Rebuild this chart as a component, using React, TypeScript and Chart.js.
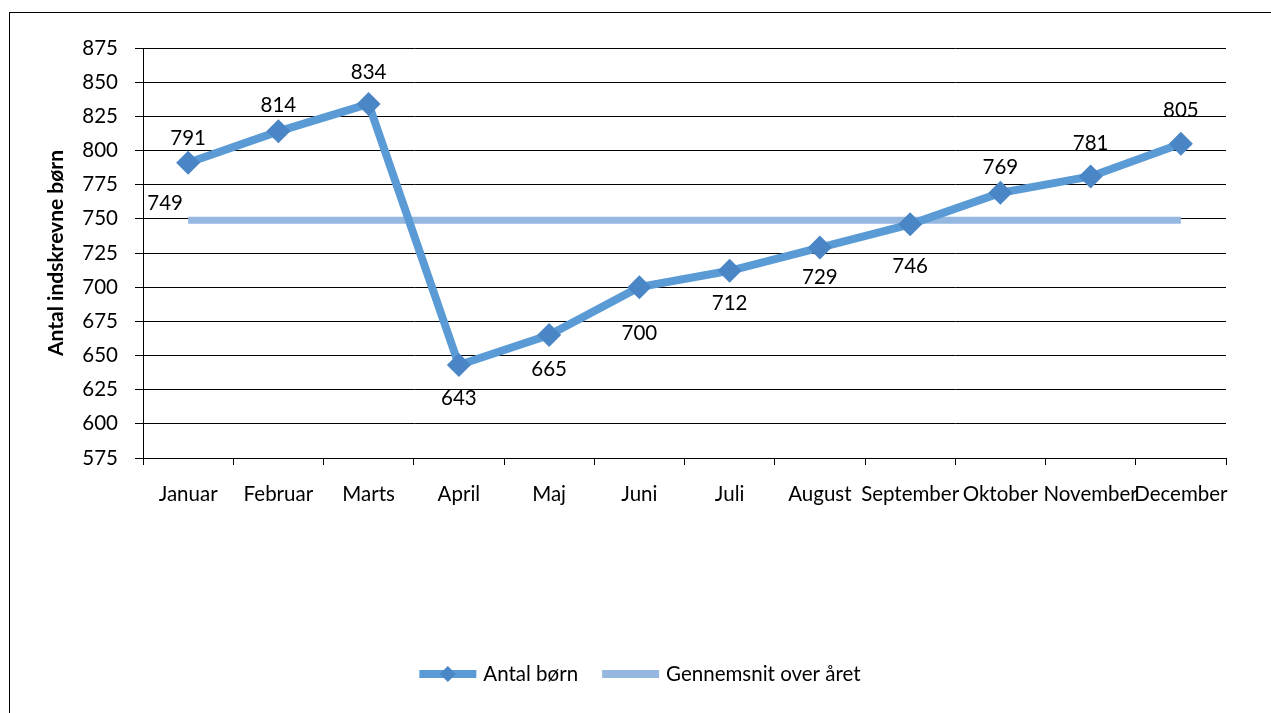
import React, { useEffect, useRef } from "react";
import { Chart, registerables } from "chart.js";

Chart.register(...registerables);

const FONT = "Lato, 'Open Sans', sans-serif";
const FS = 20.5;

const months = [
  "Januar", "Februar", "Marts", "April", "Maj", "Juni",
  "Juli", "August", "September", "Oktober", "November", "December",
];
const antalBoern = [791, 814, 834, 643, 665, 700, 712, 729, 746, 769, 781, 805];
const gennemsnit = [749, 749, 749, 749, 749, 749, 749, 749, 749, 749, 749, 749];
const seriesNames = ["Antal børn", "Gennemsnit over året"];
const yTitle = "Antal indskrevne børn";
const yMin = 575;
const yMax = 875;
const yStep = 25;

// label placement (style): vertical offsets of value labels from their points
const labelOffsetY = [-24, -26, -32, 33, 34, 46, 33, 30, 42, -25, -33, -33];

const MAIN_COLOR = "#5b9bd5";
const MARKER_COLOR = "#4a85c5";
const AVG_COLOR = "#95b8e0";

const labelPlugin = {
  id: "valueLabels",
  afterDatasetsDraw(chart: any) {
    const ctx = chart.ctx;
    ctx.save();
    ctx.font = `${FS}px ${FONT}`;
    ctx.fillStyle = "#000";
    ctx.textAlign = "center";
    ctx.textBaseline = "middle";
    const m0 = chart.getDatasetMeta(0);
    m0.data.forEach((pt: any, i: number) => {
      ctx.fillText(String(antalBoern[i]), pt.x, pt.y + labelOffsetY[i]);
    });
    const m1 = chart.getDatasetMeta(1);
    const p = m1.data[0];
    ctx.fillText(String(gennemsnit[0]), p.x - 23, p.y - 17);
    ctx.restore();
  },
};

const legendPlugin = {
  id: "customLegend",
  afterDraw(chart: any) {
    const ctx = chart.ctx;
    ctx.save();
    ctx.font = `${FS}px ${FONT}`;
    ctx.textBaseline = "middle";
    ctx.textAlign = "left";
    const sampleW = 57;
    const gapText = 7;
    const gapItems = 24;
    const y = 674;
    const ds = chart.data.datasets;
    const widths = ds.map((d: any) => ctx.measureText(d.label).width);
    const total =
      widths.reduce((a: number, w: number) => a + sampleW + gapText + w, 0) +
      gapItems * (ds.length - 1);
    let x = 640 - total / 2;
    ds.forEach((d: any, i: number) => {
      ctx.strokeStyle = d.borderColor;
      ctx.lineWidth = 8;
      ctx.beginPath();
      ctx.moveTo(x, y);
      ctx.lineTo(x + sampleW, y);
      ctx.stroke();
      if (i === 0) {
        const cx = x + sampleW / 2;
        const r = 8;
        ctx.fillStyle = MARKER_COLOR;
        ctx.beginPath();
        ctx.moveTo(cx, y - r);
        ctx.lineTo(cx + r, y);
        ctx.lineTo(cx, y + r);
        ctx.lineTo(cx - r, y);
        ctx.closePath();
        ctx.fill();
      }
      ctx.fillStyle = "#000";
      ctx.fillText(d.label, x + sampleW + gapText, y);
      x += sampleW + gapText + widths[i] + gapItems;
    });
    ctx.restore();
  },
};

export default function App() {
  const ref = useRef<HTMLCanvasElement | null>(null);

  useEffect(() => {
    if (!ref.current) return;
    const chart = new Chart(ref.current, {
      type: "line",
      data: {
        labels: months,
        datasets: [
          {
            label: seriesNames[0],
            data: antalBoern,
            borderColor: MAIN_COLOR,
            backgroundColor: MARKER_COLOR,
            borderWidth: 8,
            pointStyle: "rectRot",
            pointRadius: 12,
            pointBorderWidth: 0,
            pointBackgroundColor: MARKER_COLOR,
            pointBorderColor: MARKER_COLOR,
            tension: 0,
            order: 0,
          },
          {
            label: seriesNames[1],
            data: gennemsnit,
            borderColor: AVG_COLOR,
            backgroundColor: AVG_COLOR,
            borderWidth: 7,
            pointRadius: 0,
            borderCapStyle: "butt",
            tension: 0,
            order: 1,
          },
        ],
      },
      options: {
        responsive: false,
        animation: false,
        layout: { padding: { left: 0, top: 48, right: 45, bottom: 0 } },
        plugins: {
          legend: { display: false },
          tooltip: { enabled: false },
        },
        scales: {
          x: {
            offset: true,
            grid: {
              offset: true,
              drawOnChartArea: false,
              drawTicks: true,
              tickLength: 7,
              color: "#000",
            },
            border: { display: true, color: "#000", width: 1 },
            ticks: {
              autoSkip: false,
              maxRotation: 0,
              minRotation: 0,
              color: "#000",
              padding: 17,
              font: { family: FONT, size: FS },
            },
            afterFit(scale: any) {
              scale.height = 713 - 458;
            },
          },
          y: {
            min: yMin,
            max: yMax,
            ticks: {
              stepSize: yStep,
              color: "#000",
              padding: 17,
              font: { family: FONT, size: FS },
            },
            grid: {
              color: "#000",
              lineWidth: 1,
              drawTicks: true,
              tickLength: 8,
            },
            border: { display: true, color: "#000", width: 1 },
            title: {
              display: true,
              text: yTitle,
              color: "#000",
              font: { family: FONT, size: 21, weight: "bold" },
              padding: { top: 44, bottom: 0 },
            },
            afterFit(scale: any) {
              scale.width = 143;
            },
          },
        },
      },
      plugins: [labelPlugin, legendPlugin],
    });
    return () => chart.destroy();
  }, []);

  return (
    <div
      style={{
        position: "absolute",
        left: 0,
        top: 0,
        width: 1271,
        height: 713,
        overflow: "hidden",
        background: "#fff",
      }}
    >
      <div
        style={{
          position: "absolute",
          left: 9,
          top: 12,
          width: 1400,
          height: 800,
          border: "1px solid #000",
          boxSizing: "border-box",
        }}
      />
      <canvas
        ref={ref}
        width={1271}
        height={713}
        style={{ position: "absolute", left: 0, top: 0, width: 1271, height: 713 }}
      />
    </div>
  );
}
